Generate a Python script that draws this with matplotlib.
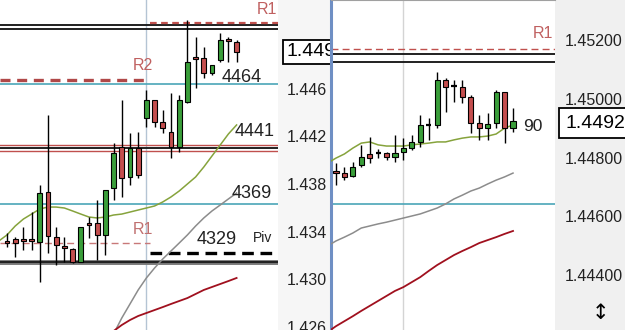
import matplotlib.pyplot as plt
from matplotlib.patches import Rectangle

plt.rcParams['font.family'] = ['Liberation Sans', 'DejaVu Sans']

# ---- left chart: candles (open, high, low, close), bar 0 .. 28
left_open = [1.43320, 1.43337, 1.43337, 1.43337, 1.43312, 1.43733, 1.43354, 1.43278,
             1.43253, 1.43143, 1.43472, 1.43472, 1.43371, 1.43766, 1.44112, 1.43859,
             1.44103, 1.44356, 1.44507, 1.44322, 1.44238, 1.44112, 1.44491, 1.44869,
             1.44861, 1.44735, 1.44844, 1.45021, 1.44996]
left_high = [1.43388, 1.43354, 1.43438, 1.43564, 1.43792, 1.44381, 1.43438, 1.43354,
             1.43261, 1.43438, 1.43522, 1.43665, 1.43750, 1.44145, 1.44507, 1.44230,
             1.44238, 1.44592, 1.44507, 1.44423, 1.44566, 1.44549, 1.45181, 1.45038,
             1.44954, 1.44802, 1.45072, 1.45038, 1.45013]
left_low = [1.43270, 1.43185, 1.43244, 1.43244, 1.42975, 1.43219, 1.43118, 1.43143,
            1.43135, 1.43143, 1.43345, 1.43160, 1.43202, 1.43665, 1.43691, 1.43792,
            1.43851, 1.44280, 1.44280, 1.44230, 1.44019, 1.44070, 1.44482, 1.44608,
            1.44693, 1.44718, 1.44827, 1.44827, 1.44827]
left_close = [1.43303, 1.43303, 1.43320, 1.43320, 1.43724, 1.43362, 1.43286, 1.43261,
              1.43143, 1.43438, 1.43455, 1.43371, 1.43750, 1.44061, 1.43851, 1.44103,
              1.43876, 1.44507, 1.44322, 1.44272, 1.44112, 1.44507, 1.44827, 1.44853,
              1.44735, 1.44802, 1.45013, 1.45004, 1.44912]

# moving averages of the left chart
left_green_bars = list(range(-1, 29))
left_green = [1.43320, 1.43371, 1.43446, 1.43505, 1.43547, 1.43590, 1.43606, 1.43606,
              1.43598, 1.43573, 1.43547, 1.43522, 1.43514, 1.43522, 1.43539, 1.43547,
              1.43564, 1.43581, 1.43598, 1.43615, 1.43649, 1.43691, 1.43741, 1.43800,
              1.43859, 1.43943, 1.44036, 1.44128, 1.44221, 1.44297]
left_slow_bars = list(range(13, 29))
left_gray = [1.42537, 1.42672, 1.42790, 1.42908, 1.43009, 1.43093, 1.43169, 1.43236,
             1.43303, 1.43371, 1.43446, 1.43514, 1.43573, 1.43623, 1.43674, 1.43724]
left_red = [1.42562, 1.42613, 1.42655, 1.42689, 1.42714, 1.42739, 1.42764, 1.42790,
            1.42815, 1.42840, 1.42874, 1.42908, 1.42933, 1.42958, 1.42983, 1.43009]

# levels of the left chart
left_r1_top = 1.45152
left_black_top = [1.45135, 1.45105]
left_r2 = 1.44676
left_blue_top = 1.44640
left_red_mid = [1.44128, 1.44078]
left_black_mid = 1.44103
left_blue_low = 1.43632
left_r1_low = 1.43303
left_pivot = 1.43219
left_support = 1.43143
left_session_bar = 17

left_ticks = [1.446, 1.442, 1.438, 1.434, 1.430, 1.426]
left_last = '1.4492'

# ---- right chart: candles, bar 0 .. 21
right_open = [1.44754, 1.44747, 1.44737, 1.44774, 1.44812, 1.44815, 1.44815, 1.44802,
              1.44819, 1.44832, 1.44853, 1.44912, 1.44911, 1.45064, 1.45042, 1.45040,
              1.45006, 1.44917, 1.44900, 1.44917, 1.45023, 1.44900]
right_high = [1.44781, 1.44768, 1.44785, 1.44843, 1.44870, 1.44829, 1.44819, 1.44877,
              1.44866, 1.44877, 1.44945, 1.44934, 1.45091, 1.45071, 1.45064, 1.45064,
              1.45013, 1.44945, 1.44952, 1.45030, 1.45023, 1.44969]
right_low = [1.44706, 1.44723, 1.44734, 1.44768, 1.44781, 1.44798, 1.44792, 1.44785,
             1.44792, 1.44826, 1.44836, 1.44860, 1.44900, 1.44955, 1.44989, 1.44986,
             1.44883, 1.44860, 1.44860, 1.44900, 1.44849, 1.44887]
right_close = [1.44747, 1.44734, 1.44768, 1.44802, 1.44798, 1.44814, 1.44802, 1.44815,
               1.44832, 1.44853, 1.44911, 1.44911, 1.45064, 1.45040, 1.45040, 1.45006,
               1.44917, 1.44900, 1.44914, 1.45023, 1.44900, 1.44924]

right_ma_bars = list(range(-1, 22))
right_green = [1.44781, 1.44798, 1.44812, 1.44832, 1.44849, 1.44853, 1.44843, 1.44839,
               1.44839, 1.44839, 1.44843, 1.44846, 1.44849, 1.44853, 1.44853, 1.44860,
               1.44866, 1.44870, 1.44870, 1.44873, 1.44880, 1.44900, 1.44911]
right_gray = [1.44499, 1.44516, 1.44529, 1.44543, 1.44560, 1.44567, 1.44574, 1.44580,
              1.44587, 1.44594, 1.44601, 1.44608, 1.44618, 1.44628, 1.44642, 1.44659,
              1.44672, 1.44686, 1.44696, 1.44710, 1.44723, 1.44734, 1.44747]
right_red = [1.44206, 1.44226, 1.44243, 1.44260, 1.44278, 1.44295, 1.44312, 1.44329,
             1.44346, 1.44359, 1.44376, 1.44393, 1.44414, 1.44434, 1.44451, 1.44468,
             1.44482, 1.44495, 1.44509, 1.44519, 1.44529, 1.44540, 1.44550]

right_r1 = 1.45169
right_black = [1.45152, 1.45125]
right_teal = 1.44642
right_session_bar = 8

right_ticks = [1.452, 1.450, 1.448, 1.446, 1.444]
right_last = '1.4492'

GREEN = '#3a9e3a'
RED = '#c44e4e'
LEVEL_RED = '#c0504d'
TEAL = '#4aa6b8'
MA_GREEN = '#86a33c'
MA_GRAY = '#8c8c8c'
MA_RED = '#a0101e'


def draw_candles(ax, o, h, l, c, width=0.6):
    for i in range(len(o)):
        ax.vlines(i, l[i], h[i], color='black', lw=1, zorder=4)
        lo, hi = min(o[i], c[i]), max(o[i], c[i])
        if hi - lo < 0.00003:
            ax.hlines(o[i], i - width / 2, i + width / 2, color='black', lw=1.6, zorder=5)
        else:
            fc = GREEN if c[i] > o[i] else RED
            ax.add_patch(Rectangle((i - width / 2, lo), width, hi - lo, fc=fc,
                                   ec='black', lw=0.8, zorder=5))


fig = plt.figure(figsize=(6.25, 3.3), dpi=100)
W = 625

# grey price-scale strips
fig.add_artist(Rectangle((278 / W, 0), 53 / W, 1, transform=fig.transFigure,
                         fc='#f6f6f6', ec='none', zorder=-1))
fig.add_artist(Rectangle((555 / W, 0), 70 / W, 1, transform=fig.transFigure,
                         fc='#f0f0f0', ec='none', zorder=-1))

# ---------------- left chart
ax1 = fig.add_axes([0, 0, 278 / W, 1], zorder=1)
ax1.set_xlim(-0.85, 33.05)
ax1.set_ylim(1.42571, 1.45349)
for s in ax1.spines.values():
    s.set_visible(False)
ax1.set_xticks([])
ax1.yaxis.tick_right()
ax1.set_yticks(left_ticks)
ax1.set_yticklabels([f'{v:.3f}' for v in left_ticks])
ax1.tick_params(axis='y', length=0, pad=6.5, labelsize=11.5, labelcolor='#222222')

ax1.axvline(left_session_bar, color='#b4c4d4', lw=1, zorder=1)
split = 150 / 278
for y in left_black_top:
    ax1.axhline(y, color='#202020', lw=1.4, zorder=2)
ax1.axhline(left_r1_top, xmin=split, color=LEVEL_RED, lw=1.6, ls=(0, (3, 2)), zorder=2)
ax1.axhline(left_r2, xmax=split, color='#b04848', lw=2.4, ls=(0, (3, 2)), zorder=2)
ax1.axhline(left_blue_top, color=TEAL, lw=1.2, zorder=2)
for y in left_red_mid:
    ax1.axhline(y, color=LEVEL_RED, lw=1, zorder=2)
ax1.axhline(left_black_mid, color='#202020', lw=1.4, zorder=2)
ax1.axhline(left_blue_low, color=TEAL, lw=1.2, zorder=2)
ax1.axhline(left_r1_low, xmax=split, color='#c87878', lw=1, ls=(0, (5, 3)), zorder=2)
ax1.axhline(left_pivot, xmin=split, color='black', lw=2.4, ls=(0, (3.5, 2)), zorder=2)
ax1.axhline(left_support, color='#777777', lw=3.5, zorder=2)
ax1.axhline(left_support, color='#202020', lw=1.4, zorder=2)

ax1.plot(left_green_bars, left_green, color=MA_GREEN, lw=1.1, zorder=3)
ax1.plot(left_slow_bars, left_gray, color=MA_GRAY, lw=1.1, zorder=3)
ax1.plot(left_slow_bars, left_red, color=MA_RED, lw=1.3, zorder=3)
draw_candles(ax1, left_open, left_high, left_low, left_close)

t1 = ax1.transAxes
for txt, x, y, col, fs in [('R1', 257, 10, '#c06060', 11.5), ('R2', 133, 66, '#c06060', 11.5),
                           ('4464', 222, 78, '#222222', 13), ('4441', 235, 131, '#222222', 13),
                           ('4369', 232, 193, '#222222', 13), ('R1', 133, 229, '#c07070', 11.5),
                           ('4329', 197, 240, '#222222', 13), ('Piv', 253, 238, '#222222', 10)]:
    ax1.text(x / 278, 1 - y / 330, txt, transform=t1, color=col, fontsize=fs,
             ha='left', va='center', zorder=6)
ax1.text(287 / 278, 1 - 52 / 330, left_last, transform=t1, fontsize=14, ha='left', va='center',
         bbox=dict(boxstyle='square,pad=0.2', fc='white', ec='black', lw=1.3), clip_on=False)
ax1.text(287 / 278, 1 + 4 / 330, '1.454', transform=t1, fontsize=11.5, ha='left',
         va='center', color='#222222', clip_on=False)

# ---------------- right chart
ax2 = fig.add_axes([331 / W, 0, 224 / W, 1], zorder=2)
ax2.set_facecolor('white')
ax2.set_xlim(-0.59, 25.98)
ax2.set_ylim(1.44213, 1.45336)
for k, s in ax2.spines.items():
    s.set_visible(k in ('left', 'top'))
ax2.spines['left'].set_color('#6f8fc4')
ax2.spines['left'].set_linewidth(2.2)
ax2.spines['top'].set_color('#a0a0a0')
ax2.set_xticks([])
ax2.yaxis.tick_right()
ax2.set_yticks(right_ticks)
ax2.set_yticklabels([f'{v:.5f}' for v in right_ticks])
ax2.tick_params(axis='y', length=0, pad=7, labelsize=11.5, labelcolor='#222222')

ax2.axvline(right_session_bar, color='#d4d4d4', lw=1, zorder=1)
ax2.axhline(right_r1, color=LEVEL_RED, lw=1, ls=(0, (5, 3)), zorder=2)
for y in right_black:
    ax2.axhline(y, color='#202020', lw=1.4, zorder=2)
ax2.axhline(right_teal, color=TEAL, lw=1.2, zorder=2)

ax2.plot(right_ma_bars, right_green, color=MA_GREEN, lw=1.1, zorder=3)
ax2.plot(right_ma_bars, right_gray, color=MA_GRAY, lw=1.1, zorder=3)
ax2.plot(right_ma_bars, right_red, color=MA_RED, lw=1.3, zorder=3)
draw_candles(ax2, right_open, right_high, right_low, right_close)

t2 = ax2.transAxes
ax2.text((533 - 331) / 224, 1 - 34 / 330, 'R1', transform=t2, color='#c06060',
         fontsize=11.5, ha='left', va='center')
ax2.text((523 - 331) / 224, 1 - 127 / 330, '90', transform=t2, color='#222222',
         fontsize=12.5, ha='left', va='center')
ax2.text((566 - 331) / 224, 1 - 123 / 330, right_last, transform=t2, fontsize=14,
         ha='left', va='center', clip_on=False,
         bbox=dict(boxstyle='square,pad=0.35', fc='white', ec='black', lw=1.3))

fig.text(600 / W, 1 - 313 / 330, '\u2195', fontsize=15, ha='center', va='center',
         family=['DejaVu Sans'])

fig.savefig('out.png', dpi=100)
